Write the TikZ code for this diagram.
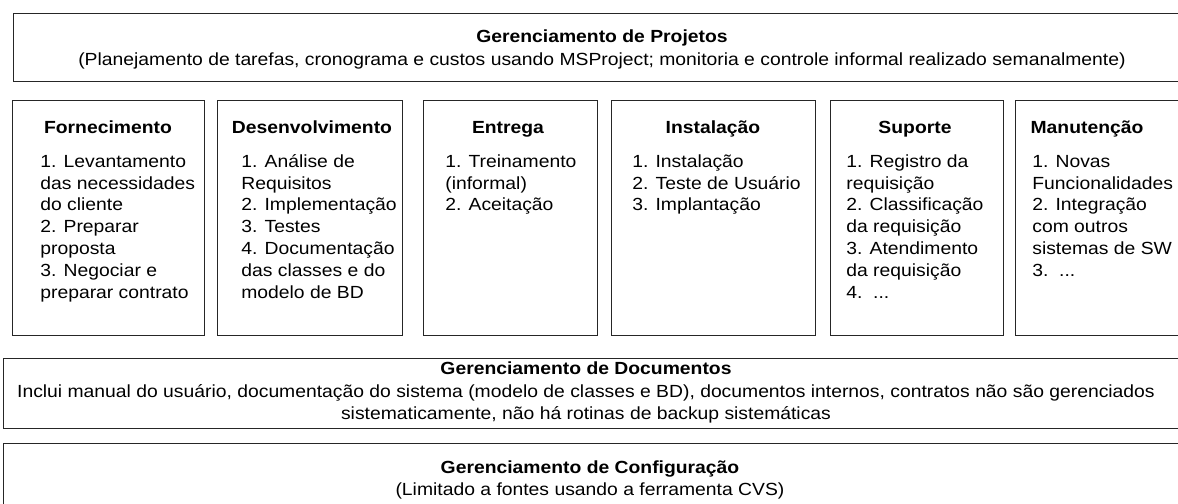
\documentclass[tikz,border=0pt]{standalone}
\usepackage{fontspec}
\setmainfont{Liberation Sans}[FakeStretch=1.1]
\usetikzlibrary{positioning}
\newcommand{\boxfont}{\fontsize{10}{12.5}\selectfont}
\newcommand{\firstline}{\rule{0pt}{9.5pt}}

\begin{document}
\begin{tikzpicture}[x=0.02cm,y=-0.02cm,
 panel/.style 2 args={draw=black!85,line width=0.7pt,minimum width=#1*0.02cm,
 minimum height=#2*0.02cm,anchor=north west,inner sep=0pt},
 head/.style={font=\boxfont\bfseries,anchor=base,inner sep=0pt},
 note/.style={font=\boxfont,anchor=base,inner sep=0pt},
 items/.style={font=\boxfont,align=left,anchor=north west,inner sep=0pt}]
\useasboundingbox (0,0) rectangle (1178,504);
\clip (0,0) rectangle (1178,504);

% top layer
\node[panel={1200}{68}] (proj) at (13,13) {};
\node[head] (projT) at (602,42) {Gerenciamento de Projetos};
\node[note] (projS) at (602,65) {(Planejamento de tarefas, cronograma e custos usando MSProject; monitoria e controle informal realizado semanalmente)};

% processes
\node[panel={192}{235}] (forn) at (12,100) {};
\node[panel={185}{235}] (dev) at (217,100) {};
\node[panel={174}{235}] (entr) at (423,100) {};
\node[panel={204}{235}] (inst) at (611,100) {};
\node[panel={173}{235}] (sup) at (830,100) {};
\node[panel={200}{235}] (man) at (1015,100) {};

\node[head] (fornT) at (108,133) {Fornecimento};
\node[head] (devT) at (312,133) {Desenvolvimento};
\node[head] (entrT) at (508,133) {Entrega};
\node[head] (instT) at (713,133) {Instalação};
\node[head] (supT) at (915,133) {Suporte};
\node[head] (manT) at (1087,133) {Manutenção};

\node[items] (fornL) at (40,150) {\firstline 1. Levantamento\\das necessidades\\do cliente\\2. Preparar\\proposta\\3. Negociar e\\preparar contrato};
\node[items] (devL) at (241,150) {\firstline 1. Análise de\\Requisitos\\2. Implementação\\3. Testes\\4. Documentação\\das classes e do\\modelo de BD};
\node[items] (entrL) at (445,150) {\firstline 1. Treinamento\\(informal)\\2. Aceitação};
\node[items] (instL) at (632,150) {\firstline 1. Instalação\\2. Teste de Usuário\\3. Implantação};
\node[items] (supL) at (846,150) {\firstline 1. Registro da\\requisição\\2. Classificação\\da requisição\\3. Atendimento\\da requisição\\4.~~...};
\node[items] (manL) at (1032,150) {\firstline 1. Novas\\Funcionalidades\\2. Integração\\com outros\\sistemas de SW\\3.~~...};

% bottom layers
\node[panel={1200}{70}] (docs) at (3,358) {};
\node[head] (docsT) at (586,374) {Gerenciamento de Documentos};
\node[note] (docsS1) at (586,397) {Inclui manual do usuário, documentação do sistema (modelo de classes e BD), documentos internos, contratos não são gerenciados};
\node[note] (docsS2) at (586,419) {sistematicamente, não há rotinas de backup sistemáticas};

\node[panel={1200}{80}] (conf) at (3,443) {};
\node[head] (confT) at (590,473) {Gerenciamento de Configuração};
\node[note] (confS) at (590,495) {(Limitado a fontes usando a ferramenta CVS)};
\end{tikzpicture}
\end{document}
